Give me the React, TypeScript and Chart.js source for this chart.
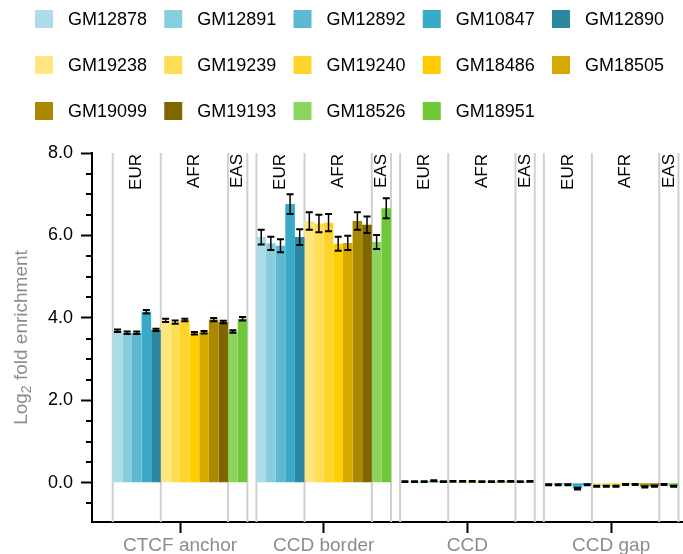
import React, { useEffect, useRef } from 'react';
import { Chart, registerables } from 'chart.js';

Chart.register(...registerables);

const FONT = "'Liberation Sans', Arial, Helvetica, sans-serif";

// Genomic region categories along the x axis
const regions = ['CTCF anchor', 'CCD border', 'CCD', 'CCD gap'];

// Cell lines, grouped by population
const samples = [
  'GM12878', 'GM12891', 'GM12892', 'GM10847', 'GM12890',
  'GM19238', 'GM19239', 'GM19240', 'GM18486', 'GM18505',
  'GM19099', 'GM19193', 'GM18526', 'GM18951',
];
const sampleColors = [
  '#acdce8', '#86cdde', '#5db9d2', '#36aac7', '#2b889e',
  '#ffe680', '#ffdd55', '#ffd42a', '#ffcc00', '#d4aa00',
  '#aa8800', '#806600', '#8dd35f', '#71c837',
];
const populations = ['EUR', 'AFR', 'EAS'];
const populationSizes = [5, 7, 2];

// Log2 fold enrichment per cell line, one array per region
const ctcfAnchor = [3.69, 3.64, 3.64, 4.15, 3.71, 3.94, 3.90, 3.95, 3.63, 3.65, 3.96, 3.90, 3.67, 3.98];
const ccdBorder = [5.96, 5.81, 5.75, 6.76, 5.96, 6.35, 6.29, 6.31, 5.80, 5.82, 6.35, 6.26, 5.84, 6.66];
const ccd = [0.03, 0.03, 0.03, 0.05, 0.03, 0.035, 0.035, 0.035, 0.03, 0.03, 0.035, 0.035, 0.03, 0.035];
const ccdGap = [-0.045, -0.045, -0.045, -0.14, -0.045, -0.08, -0.08, -0.085, -0.04, -0.04, -0.10, -0.08, -0.04, -0.08];

// Standard errors, same layout
const ctcfAnchorErr = [0.03, 0.03, 0.03, 0.04, 0.03, 0.04, 0.04, 0.03, 0.03, 0.03, 0.04, 0.03, 0.03, 0.04];
const ccdBorderErr = [0.18, 0.16, 0.16, 0.24, 0.19, 0.21, 0.21, 0.21, 0.17, 0.17, 0.21, 0.20, 0.17, 0.24];
const ccdErr = [0.01, 0.01, 0.01, 0.012, 0.01, 0.01, 0.01, 0.01, 0.01, 0.01, 0.01, 0.01, 0.01, 0.01];
const ccdGapErr = [0.012, 0.012, 0.012, 0.02, 0.012, 0.012, 0.012, 0.012, 0.012, 0.012, 0.015, 0.012, 0.012, 0.012];

const enrichment = [ctcfAnchor, ccdBorder, ccd, ccdGap];
const enrichmentErr = [ctcfAnchorErr, ccdBorderErr, ccdErr, ccdGapErr];

// Labelled y ticks; the 0.5 steps in between get short unlabelled marks
const yMajorTicks = [0, 2, 4, 6, 8];
const yTitle = { main: 'Log', sub: '2', rest: ' fold enrichment' };

const isMajor = (v: number) => yMajorTicks.some((m) => Math.abs(m - v) < 1e-6);

// x positions of the population separators for each region
function groupBounds(chart: any): number[][] {
  const out: number[][] = [];
  regions.forEach((_, j) => {
    const first = chart.getDatasetMeta(0).data[j].getProps(['x', 'width'], true);
    const xs = [first.x - first.width / 2];
    let idx = 0;
    populationSizes.forEach((n) => {
      idx += n;
      const bar = chart.getDatasetMeta(idx - 1).data[j].getProps(['x', 'width'], true);
      xs.push(bar.x + bar.width / 2);
    });
    out.push(xs);
  });
  return out;
}

const separatorPlugin = {
  id: 'populationSeparators',
  beforeDatasetsDraw(chart: any) {
    const { ctx, chartArea } = chart;
    ctx.save();
    ctx.strokeStyle = '#d0d0d0';
    ctx.lineWidth = 2;
    groupBounds(chart).forEach((xs) =>
      xs.forEach((x) => {
        ctx.beginPath();
        ctx.moveTo(x, chartArea.top);
        ctx.lineTo(x, chartArea.bottom);
        ctx.stroke();
      })
    );
    ctx.restore();
  },
};

const errorBarPlugin = {
  id: 'errorBars',
  afterDatasetsDraw(chart: any) {
    const { ctx } = chart;
    const y = chart.scales.y;
    ctx.save();
    ctx.strokeStyle = '#000';
    chart.data.datasets.forEach((ds: any, i: number) => {
      chart.getDatasetMeta(i).data.forEach((bar: any, j: number) => {
        const v = enrichment[j][i];
        const e = enrichmentErr[j][i];
        const { x } = bar.getProps(['x'], true);
        const top = y.getPixelForValue(v + e);
        const bot = y.getPixelForValue(v - e);
        const cap = 3.5;
        ctx.lineWidth = 1.5;
        ctx.beginPath();
        ctx.moveTo(x, top);
        ctx.lineTo(x, bot);
        ctx.stroke();
        ctx.lineWidth = 2;
        ctx.beginPath();
        ctx.moveTo(x - cap, top);
        ctx.lineTo(x + cap, top);
        ctx.moveTo(x - cap, bot);
        ctx.lineTo(x + cap, bot);
        ctx.stroke();
      });
    });
    ctx.restore();
  },
};

const populationLabelPlugin = {
  id: 'populationLabels',
  afterDatasetsDraw(chart: any) {
    const { ctx, chartArea } = chart;
    ctx.save();
    ctx.fillStyle = '#000';
    ctx.font = `17px ${FONT}`;
    ctx.textAlign = 'right';
    ctx.textBaseline = 'middle';
    groupBounds(chart).forEach((xs) => {
      populations.forEach((name, k) => {
        const cx = (xs[k] + xs[k + 1]) / 2;
        ctx.save();
        ctx.translate(cx, chartArea.top + 1);
        ctx.rotate(-Math.PI / 2);
        ctx.fillText(name, 0, 0);
        ctx.restore();
      });
    });
    ctx.restore();
  },
};

const axisDecorPlugin = {
  id: 'axisDecor',
  afterDraw(chart: any) {
    const { ctx, chartArea } = chart;
    const y = chart.scales.y;
    ctx.save();
    // short marks for the unlabelled half steps
    ctx.strokeStyle = '#000';
    ctx.lineWidth = 2;
    y.ticks.forEach((t: any) => {
      if (isMajor(t.value)) return;
      const py = Math.round(y.getPixelForValue(t.value));
      ctx.beginPath();
      ctx.moveTo(chartArea.left - 6, py);
      ctx.lineTo(chartArea.left, py);
      ctx.stroke();
    });

    // y axis title with a subscript
    const mainSize = 19;
    const subSize = 14;
    ctx.fillStyle = '#8c8c8c';
    ctx.font = `${mainSize}px ${FONT}`;
    const w1 = ctx.measureText(yTitle.main).width;
    const w3 = ctx.measureText(yTitle.rest).width;
    ctx.font = `${subSize}px ${FONT}`;
    const w2 = ctx.measureText(yTitle.sub).width;
    const total = w1 + w2 + w3;
    const cy = (chartArea.top + chartArea.bottom) / 2;
    ctx.translate(27, cy);
    ctx.rotate(-Math.PI / 2);
    ctx.textBaseline = 'alphabetic';
    ctx.textAlign = 'left';
    let sx = -total / 2;
    ctx.font = `${mainSize}px ${FONT}`;
    ctx.fillText(yTitle.main, sx, 0);
    sx += w1;
    ctx.font = `${subSize}px ${FONT}`;
    ctx.fillText(yTitle.sub, sx, 4);
    sx += w2;
    ctx.font = `${mainSize}px ${FONT}`;
    ctx.fillText(yTitle.rest, sx, 0);
    ctx.restore();
  },
};

const legendPlugin = {
  id: 'gridLegend',
  afterDraw(chart: any) {
    const { ctx } = chart;
    const rowY = [19, 65, 111];
    ctx.save();
    ctx.font = `18px ${FONT}`;
    ctx.textBaseline = 'middle';
    ctx.textAlign = 'left';
    samples.forEach((name, i) => {
      const r = Math.floor(i / 5);
      const c = i % 5;
      const x = 35 + c * 129.25;
      const cy = rowY[r];
      ctx.fillStyle = sampleColors[i];
      ctx.fillRect(x, cy - 9, 18, 18);
      ctx.fillStyle = '#000';
      ctx.fillText(name, x + 33, cy + 1);
    });
    ctx.restore();
  },
};

export default function App() {
  const canvasRef = useRef<HTMLCanvasElement | null>(null);

  useEffect(() => {
    const canvas = canvasRef.current;
    if (!canvas) return;

    const datasets = samples.map((name, i) => ({
      label: name,
      data: regions.map((_, j) => ({ x: j, y: enrichment[j][i] })),
      backgroundColor: sampleColors[i],
      borderWidth: 0,
      categoryPercentage: 0.9367,
      barPercentage: 1,
    }));

    const chart = new Chart(canvas, {
      type: 'bar',
      data: { datasets },
      options: {
        responsive: false,
        animation: false,
        layout: { padding: { top: 153, left: 0, right: 0, bottom: 0 } },
        plugins: {
          legend: { display: false },
          tooltip: { enabled: false },
          title: { display: false },
        },
        scales: {
          x: {
            type: 'linear',
            min: -0.6125,
            max: 3.5,
            offset: false,
            afterBuildTicks: (axis: any) => {
              axis.ticks = regions.map((_, i) => ({ value: i }));
            },
            afterFit: (axis: any) => {
              axis.height = 32;
            },
            ticks: {
              autoSkip: false,
              maxRotation: 0,
              padding: 1,
              color: '#8c8c8c',
              font: { family: FONT, size: 19 },
              callback: (v: any) => regions[Number(v)] ?? '',
            },
            grid: {
              offset: false,
              drawOnChartArea: false,
              drawTicks: true,
              tickLength: 11,
              tickWidth: 2,
              tickColor: '#000',
            },
            border: { display: true, color: '#000', width: 2 },
          },
          y: {
            type: 'linear',
            min: -0.95,
            max: 8,
            afterFit: (axis: any) => {
              axis.width = 92;
            },
            ticks: {
              stepSize: 0.5,
              includeBounds: false,
              autoSkip: false,
              padding: 8,
              color: '#000',
              font: { family: FONT, size: 18 },
              callback: (v: any) => (isMajor(Number(v)) ? Number(v).toFixed(1) : ''),
            },
            grid: {
              drawOnChartArea: false,
              drawTicks: true,
              tickLength: 11,
              tickWidth: 2,
              tickColor: (c: any) => (c.tick && isMajor(c.tick.value) ? '#000' : 'rgba(0,0,0,0)'),
            },
            border: { display: true, color: '#000', width: 2 },
          },
        },
      },
      plugins: [separatorPlugin, errorBarPlugin, populationLabelPlugin, axisDecorPlugin, legendPlugin],
    } as any);

    return () => chart.destroy();
  }, []);

  return (
    <div style={{ position: 'absolute', left: 0, top: 0, width: 683, height: 554, background: '#fff' }}>
      <canvas ref={canvasRef} width={683} height={554} />
    </div>
  );
}
